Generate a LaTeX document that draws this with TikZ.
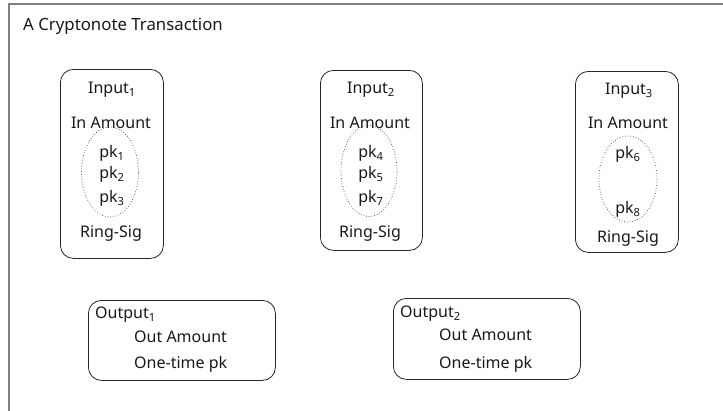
\documentclass[tikz,border=0pt]{standalone}
\usepackage{fontspec}
\setmainfont{Noto Sans}
\usetikzlibrary{shapes.geometric}
\tikzset{
  frame/.style={draw=black!50, line width=1.6pt},
  box/.style={draw=black!85, line width=0.8pt, rounded corners=13pt, rectangle, inner sep=0pt, anchor=north west},
  ring/.style={draw=black!75, dotted, line width=0.7pt, ellipse, inner sep=0pt},
  lbl/.style={inner sep=0pt, text height=11.6pt, text depth=0pt, font=\fontsize{16pt}{19pt}\selectfont, text=black!90},
}
\begin{document}
\begin{tikzpicture}[x=1pt,y=-1pt]
\useasboundingbox (0,0) rectangle (723,410);
\fill[white] (0,0) rectangle (723,410);
\draw[frame] (9,440) -- (9,4) -- (760,4);
\node[lbl, anchor=west, font=\fontsize{16.8pt}{20pt}\selectfont] (title) at (23,25) {A Cryptonote Transaction};

% Input 1
\node[box, minimum width=103pt, minimum height=189pt] (in1) at (60,69) {};
\node[ring, minimum width=57pt, minimum height=90pt] (e1) at (110,172) {};
\node[lbl] (in1t) at (112,88) {Input\textsubscript{1}};
\node[lbl] (in1a) at (111,123) {In Amount};
\node[lbl] (pk1) at (112,152) {pk\textsubscript{1}};
\node[lbl] (pk2) at (112,173) {pk\textsubscript{2}};
\node[lbl] (pk3) at (112,197) {pk\textsubscript{3}};
\node[lbl] (in1r) at (111,232) {Ring-Sig};

% Input 2
\node[box, minimum width=102pt, minimum height=180pt] (in2) at (320,70) {};
\node[ring, minimum width=56pt, minimum height=91pt] (e2) at (369,171) {};
\node[lbl] (in2t) at (371,88) {Input\textsubscript{2}};
\node[lbl] (in2a) at (370,123) {In Amount};
\node[lbl] (pk4) at (371,152) {pk\textsubscript{4}};
\node[lbl] (pk5) at (371,173) {pk\textsubscript{5}};
\node[lbl] (pk7) at (371,197) {pk\textsubscript{7}};
\node[lbl] (in2r) at (370,232) {Ring-Sig};

% Input 3
\node[box, minimum width=103pt, minimum height=181pt] (in3) at (575,71) {};
\node[ring, minimum width=58pt, minimum height=86pt] (e3) at (628,179) {};
\node[lbl] (in3t) at (629,89) {Input\textsubscript{3}};
\node[lbl] (in3a) at (628,123) {In Amount};
\node[lbl] (pk6) at (628,153) {pk\textsubscript{6}};
\node[lbl] (pk8) at (628,208) {pk\textsubscript{8}};
\node[lbl] (in3r) at (628,237) {Ring-Sig};

% Output 1
\node[box, minimum width=187pt, minimum height=80pt] (out1) at (88,300) {};
\node[lbl, anchor=west] (out1t) at (95,313) {Output\textsubscript{1}};
\node[lbl, anchor=west] (out1a) at (134,337) {Out Amount};
\node[lbl, anchor=west] (out1p) at (134,363) {One-time pk};

% Output 2
\node[box, minimum width=187pt, minimum height=81pt] (out2) at (393,298) {};
\node[lbl, anchor=west] (out2t) at (400,312) {Output\textsubscript{2}};
\node[lbl, anchor=west] (out2a) at (439,335) {Out Amount};
\node[lbl, anchor=west] (out2p) at (439,363) {One-time pk};
\end{tikzpicture}
\end{document}
